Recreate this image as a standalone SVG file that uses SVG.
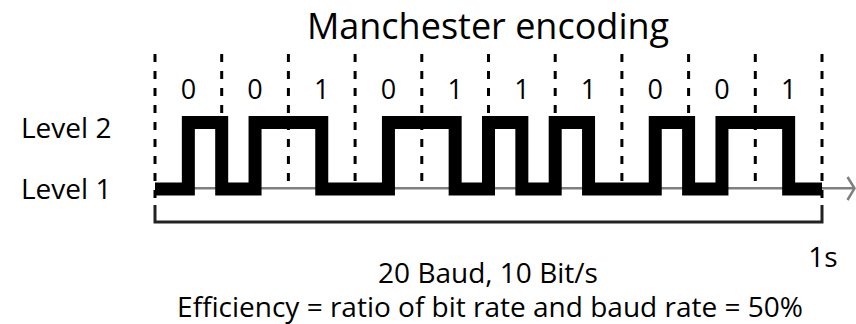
<svg xmlns="http://www.w3.org/2000/svg" width="856" height="324" viewBox="0 0 856 324">
  <style>
    text { font-family: "Open Sans", "Noto Sans", "Liberation Sans", sans-serif; fill: #000; }
    .title { font-size: 36px; text-anchor: middle; }
    .lbl { font-size: 28px; }
    .bit { font-size: 27px; text-anchor: middle; }
    .mid { text-anchor: middle; }
    .grid { stroke: #000; stroke-width: 3; stroke-dasharray: 8 9; fill: none; }
    .axis { stroke: #7f7f7f; stroke-width: 2.5; fill: none; }
    .signal { stroke: #000; stroke-width: 13; fill: none; stroke-linejoin: miter; stroke-linecap: butt; }
    .span { stroke: #222; stroke-width: 3; fill: none; }
  </style>

  <rect width="856" height="324" fill="#fff"/>

  <text class="title" x="488" y="39">Manchester encoding</text>

  <g id="levels">
    <text class="lbl" x="21" y="137.5">Level 2</text>
    <text class="lbl" x="21" y="199">Level 1</text>
  </g>

  <!-- bit boundaries -->
  <g id="bit-grid">
    <line class="grid" x1="155" y1="54" x2="155" y2="206"/>
    <line class="grid" x1="221.7" y1="54" x2="221.7" y2="189"/>
    <line class="grid" x1="288.4" y1="54" x2="288.4" y2="189"/>
    <line class="grid" x1="355.1" y1="54" x2="355.1" y2="189"/>
    <line class="grid" x1="421.8" y1="54" x2="421.8" y2="189"/>
    <line class="grid" x1="488.5" y1="54" x2="488.5" y2="189"/>
    <line class="grid" x1="555.2" y1="54" x2="555.2" y2="189"/>
    <line class="grid" x1="621.9" y1="54" x2="621.9" y2="189"/>
    <line class="grid" x1="688.6" y1="54" x2="688.6" y2="189"/>
    <line class="grid" x1="755.3" y1="54" x2="755.3" y2="189"/>
    <line class="grid" x1="822" y1="54" x2="822" y2="206"/>
  </g>

  <g id="bits">
    <text class="bit" x="188.4" y="99.3">0</text>
    <text class="bit" x="255.1" y="99.3">0</text>
    <text class="bit" x="321.8" y="99.3">1</text>
    <text class="bit" x="388.5" y="99.3">0</text>
    <text class="bit" x="455.2" y="99.3">1</text>
    <text class="bit" x="521.9" y="99.3">1</text>
    <text class="bit" x="588.6" y="99.3">1</text>
    <text class="bit" x="655.3" y="99.3">0</text>
    <text class="bit" x="722" y="99.3">0</text>
    <text class="bit" x="788.7" y="99.3">1</text>
  </g>

  <!-- time axis -->
  <g id="axis">
    <line class="axis" x1="155" y1="188.3" x2="854" y2="188.3"/>
    <polyline class="axis" points="847.5,177 854.5,188.3 847.5,200"/>
  </g>

  <!-- encoded signal: two half-bit levels per bit -->
  <g id="signal">
    <path class="signal" d="M155,189 H188.35 V122.5 H221.7 V189 H255.05 V122.5 H321.75 V189 H388.45 V122.5 H455.15 V189 H488.5 V122.5 H521.85 V189 H555.2 V122.5 H588.55 V189 H655.25 V122.5 H688.6 V189 H721.95 V122.5 H788.65 V189 H822"/>
  </g>

  <!-- one second span -->
  <g id="duration">
    <path class="span" d="M155,205 V222 H822 V205"/>
    <text class="lbl mid" x="823" y="267">1s</text>
  </g>

  <g id="caption">
    <text class="lbl mid" x="488" y="283">20 Baud, 10 Bit/s</text>
    <text class="lbl mid" x="490" y="316.5">Efficiency = ratio of bit rate and baud rate = 50%</text>
  </g>
</svg>
